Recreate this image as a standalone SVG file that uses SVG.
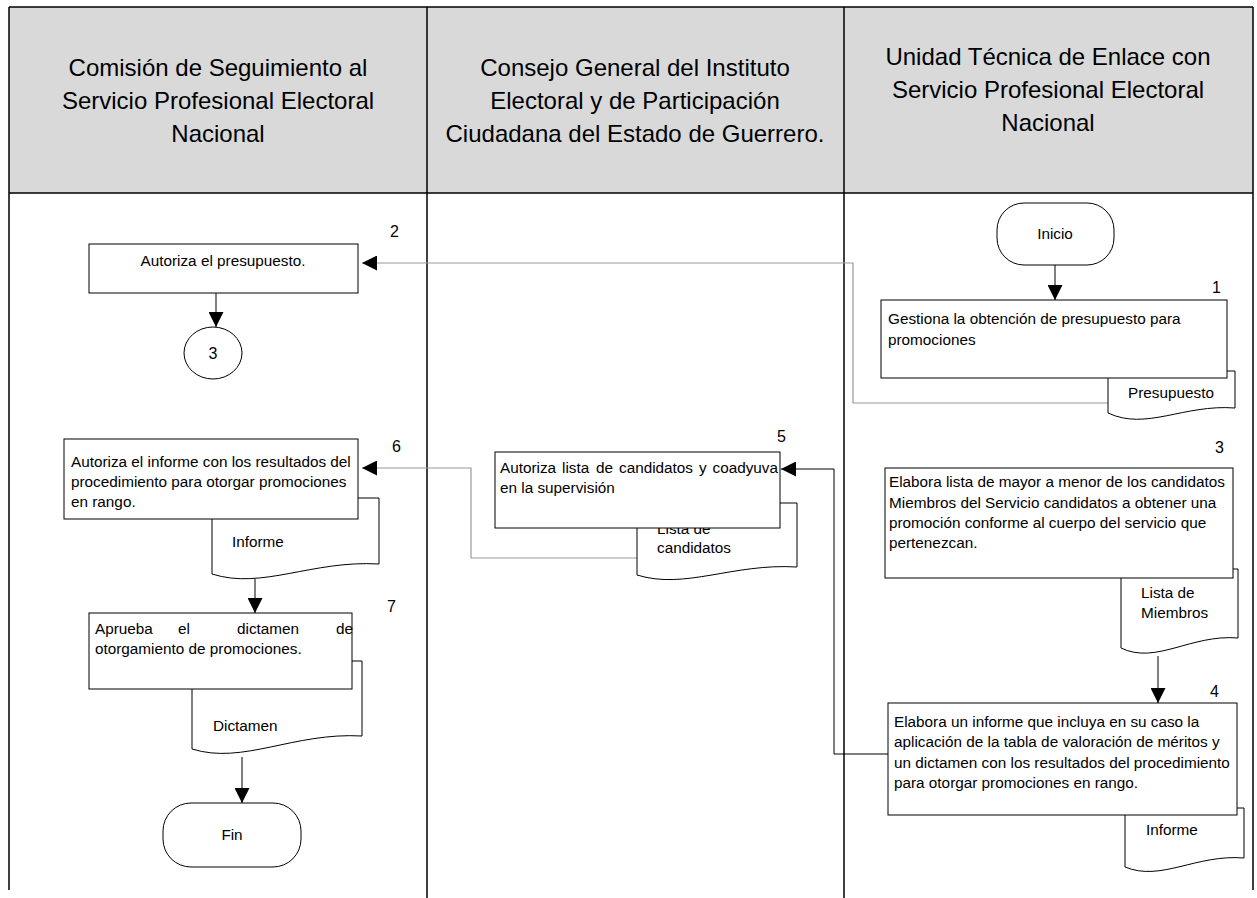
<svg xmlns="http://www.w3.org/2000/svg" width="1257" height="898" viewBox="0 0 1257 898">
<style>
text{font-family:"Liberation Sans",Arial,sans-serif;fill:#000}
.hd{font-size:24px;text-anchor:middle}
.t{font-size:15.3px}
.c{text-anchor:middle}
.n{font-size:16px}
.box{fill:#fff;stroke:#000;stroke-width:1}
.doc{fill:#fff;stroke:#000;stroke-width:1}
.frame{stroke:#000;stroke-width:1.5;fill:none}
.k{fill:none;stroke:#000;stroke-width:1}
.g{fill:none;stroke:#999;stroke-width:1.2}
</style>
<defs>
<marker id="ah" viewBox="0 0 15 15" refX="15" refY="7.5" markerWidth="15" markerHeight="15" markerUnits="userSpaceOnUse" orient="auto">
<path d="M0,0 L15,7.5 L0,15 Z" fill="#000"/>
</marker>
</defs>
<rect width="1257" height="898" fill="#fff"/>
<g id="lanes">
<rect x="9" y="7" width="1244" height="186" fill="#d9d9d9"/>
<path class="frame" d="M9,7 H1253 M9,193 H1253 M9,7 V890 M427,7 V898 M844,7 V898 M1253,7 V890"/>
<text class="hd" x="218" y="76">Comisión de Seguimiento al</text>
<text class="hd" x="218" y="109">Servicio Profesional Electoral</text>
<text class="hd" x="218" y="142">Nacional</text>
<text class="hd" x="635" y="76">Consejo General del Instituto</text>
<text class="hd" x="635" y="109">Electoral y de Participación</text>
<text class="hd" x="635" y="142">Ciudadana del Estado de Guerrero.</text>
<text class="hd" x="1048" y="65">Unidad Técnica de Enlace con</text>
<text class="hd" x="1048" y="98">Servicio Profesional Electoral</text>
<text class="hd" x="1048" y="131">Nacional</text>
</g>
<g id="connectors">
<path class="k" d="M1055,265 V300" marker-end="url(#ah)"/>
<path class="g" d="M1108,403 H853 V263 H362" marker-end="url(#ah)"/>
<path class="k" d="M216,293 V327" marker-end="url(#ah)"/>
<path class="k" d="M1158,656 V703" marker-end="url(#ah)"/>
<path class="k" d="M888,754 H834 V469 H781" marker-end="url(#ah)"/>
<path class="g" d="M637,558 H471 V468 H362" marker-end="url(#ah)"/>
<path class="k" d="M255,579 V613" marker-end="url(#ah)"/>
<path class="k" d="M242,757 V803" marker-end="url(#ah)"/>
</g>
<g id="inicio">
<rect class="box" x="997" y="203" width="117" height="62" rx="27" ry="27"/>
<text class="t c" x="1055" y="239">Inicio</text>
</g>
<g id="paso1">
<path class="doc" d="M1108,371 L1235,371 L1235,408 C1184,404 1146,431 1108,413 Z"/>
<text class="t" x="1128" y="398">Presupuesto</text>
<rect class="box" x="881" y="300" width="346" height="78"/>
<text class="t" x="888" y="324">Gestiona la obtención de presupuesto para</text>
<text class="t" x="888" y="345">promociones</text>
<text class="n" x="1212" y="293">1</text>
</g>
<g id="paso2">
<rect class="box" x="89" y="244" width="269" height="49"/>
<text class="t c" x="223" y="266">Autoriza el presupuesto.</text>
<text class="n" x="390" y="237">2</text>
</g>
<g id="conector3">
<ellipse class="box" cx="213" cy="353" rx="29" ry="26"/>
<text class="n c" x="213" y="359">3</text>
</g>
<g id="paso3">
<path class="doc" d="M1121,569 L1238,569 L1238,638 C1191,634 1156,665 1121,648 Z"/>
<text class="t" x="1141" y="598">Lista de</text>
<text class="t" x="1141" y="618">Miembros</text>
<rect class="box" x="885" y="468" width="348" height="110"/>
<text class="t" x="889" y="487">Elabora lista de mayor a menor de los candidatos</text>
<text class="t" x="889" y="508">Miembros del Servicio candidatos a obtener una</text>
<text class="t" x="889" y="528">promoción conforme al cuerpo del servicio que</text>
<text class="t" x="889" y="548">pertenezcan.</text>
<text class="n" x="1215" y="453">3</text>
</g>
<g id="paso4">
<path class="doc" d="M1125,808 L1244,808 L1244,858 C1196,854 1161,882 1125,867 Z"/>
<text class="t" x="1146" y="835">Informe</text>
<rect class="box" x="888" y="703" width="349" height="112"/>
<text class="t" x="894" y="727">Elabora un informe que incluya en su caso la</text>
<text class="t" x="894" y="747">aplicación de la tabla de valoración de méritos y</text>
<text class="t" x="894" y="768">un dictamen con los resultados del procedimiento</text>
<text class="t" x="894" y="788">para otorgar promociones en rango.</text>
<text class="n" x="1210" y="697">4</text>
</g>
<g id="paso5">
<path class="doc" d="M637,503 L797,503 L797,567 C733,563 685,590 637,575 Z"/>
<text class="t" x="657" y="534">Lista de</text>
<text class="t" x="657" y="553">candidatos</text>
<rect class="box" x="495" y="452" width="285" height="76"/>
<text class="t" x="500" y="473">Autoriza</text>
<text class="t" x="562" y="473">lista</text>
<text class="t" x="596" y="473">de</text>
<text class="t" x="619" y="473">candidatos</text>
<text class="t" x="699" y="473">y</text>
<text class="t" x="778" y="473" text-anchor="end">coadyuva</text>
<text class="t" x="500" y="493">en la supervisión</text>
<text class="n" x="777" y="442">5</text>
</g>
<g id="paso6">
<path class="doc" d="M212,498 L379,498 L379,564 C312,560 262,590 212,574 Z"/>
<text class="t" x="232" y="547">Informe</text>
<rect class="box" x="64" y="439" width="294" height="80"/>
<text class="t" x="71" y="467">Autoriza el informe con los resultados del</text>
<text class="t" x="71" y="487">procedimiento para otorgar promociones</text>
<text class="t" x="71" y="507">en rango.</text>
<text class="n" x="392" y="452">6</text>
</g>
<g id="paso7">
<path class="doc" d="M192,661 L362,661 L362,736 C294,732 243,765 192,749 Z"/>
<text class="t" x="213" y="731">Dictamen</text>
<rect class="box" x="89" y="613" width="263" height="76"/>
<text class="t" x="95" y="634">Aprueba</text>
<text class="t" x="178" y="634">el</text>
<text class="t" x="237" y="634">dictamen</text>
<text class="t" x="336" y="634">de</text>
<text class="t" x="95" y="654">otorgamiento de promociones.</text>
<text class="n" x="387" y="612">7</text>
</g>
<g id="fin">
<rect class="box" x="163" y="803" width="138" height="64" rx="28" ry="28"/>
<text class="t c" x="232" y="840">Fin</text>
</g>
</svg>
